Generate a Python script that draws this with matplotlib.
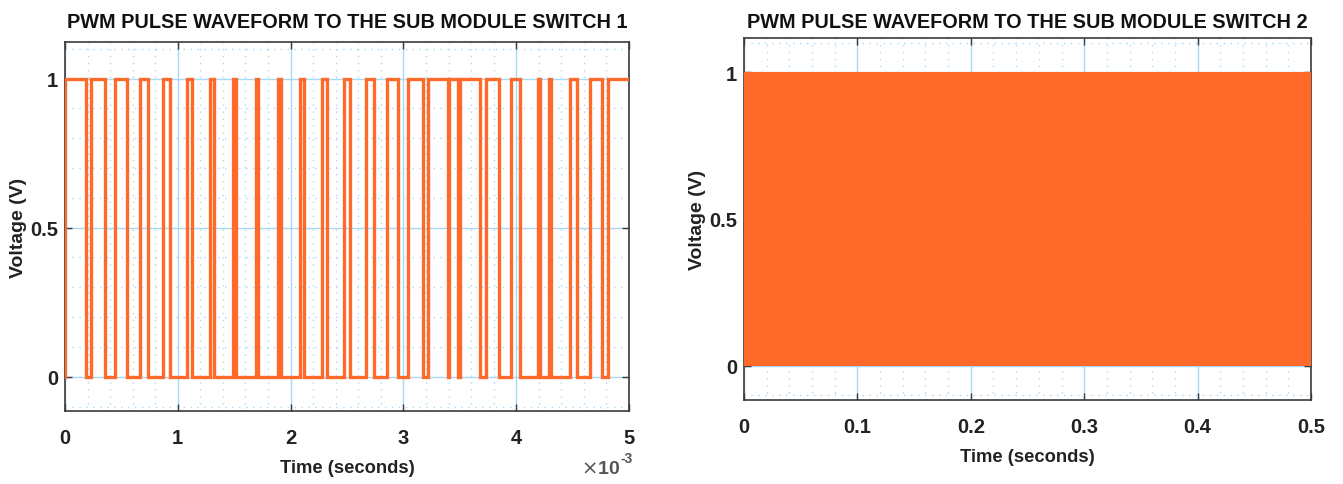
import numpy as np
import matplotlib
matplotlib.use("Agg")
import matplotlib.pyplot as plt
from matplotlib.ticker import MultipleLocator

plt.rcParams['font.family'] = ['Liberation Sans', 'DejaVu Sans']

# ---- data ----
# Switch 1: high intervals (start, end) in milliseconds
pulse_starts_ms = [0.000, 0.229, 0.446, 0.661, 0.867, 1.082, 1.285, 1.485, 1.691,
                   1.888, 2.082, 2.279, 2.470, 2.670, 2.853, 3.043, 3.220, 3.408,
                   3.500, 3.735, 3.956, 4.191, 4.288, 4.476, 4.653, 4.817]
pulse_ends_ms = [0.182, 0.352, 0.552, 0.740, 0.935, 1.123, 1.317, 1.514, 1.714,
                 1.914, 2.117, 2.323, 2.529, 2.735, 2.955, 3.176, 3.391, 3.482,
                 3.676, 3.846, 4.035, 4.212, 4.305, 4.535, 4.764, 5.000]
low_level = 0.0
high_level = 1.0

# Switch 2: high-frequency PWM seen as a solid band
band_time_s = [0.0, 0.5]
band_low = [0.0, 0.0]
band_high = [1.0, 1.0]

xticks1 = [0, 1, 2, 3, 4, 5]
xticks2 = [0, 0.1, 0.2, 0.3, 0.4, 0.5]
xtick_labels2 = ['0', '0.1', '0.2', '0.3', '0.4', '0.5']
yticks = [0, 0.5, 1]
ytick_labels = ['0', '0.5', '1']
title1 = 'PWM PULSE WAVEFORM TO THE SUB MODULE SWITCH 1'
title2 = 'PWM PULSE WAVEFORM TO THE SUB MODULE SWITCH 2'
xlabel = 'Time (seconds)'
ylabel = 'Voltage (V)'

# ---- styling ----
ORANGE = '#FF6A2B'
GRID = '#A6D8F7'
SPINE = '#3a3a3a'

W, H = 1343, 485
fig = plt.figure(figsize=(W / 100, H / 100), dpi=100)

def box(l, t, r, b):
    return [l / W, 1 - b / H, (r - l) / W, (b - t) / H]

ax1 = fig.add_axes(box(65, 43, 629, 412))
ax2 = fig.add_axes(box(744, 39, 1311, 401))

# build step trace for switch 1
xs, ys = [0.0], [low_level]
for s, e in zip(pulse_starts_ms, pulse_ends_ms):
    xs += [s, s, e, e]
    ys += [low_level, high_level, high_level, low_level]
if pulse_ends_ms[-1] >= 5.0:
    xs, ys = xs[:-1], ys[:-1]
ax1.plot(xs, ys, color=ORANGE, lw=2.4, solid_joinstyle='miter', zorder=3)
ax1.set_xlim(0, 5)
ax1.set_ylim(-0.115, 1.123)
ax1.set_xticks(xticks1)
ax1.set_xticklabels([str(v) for v in xticks1])
ax1.xaxis.set_minor_locator(MultipleLocator(0.2))

ax2.fill_between(band_time_s, band_low, band_high, color=ORANGE, lw=0, zorder=3)
ax2.set_xlim(0, 0.5)
ax2.set_ylim(-0.117, 1.117)
ax2.set_xticks(xticks2)
ax2.set_xticklabels(xtick_labels2)
ax2.xaxis.set_minor_locator(MultipleLocator(0.02))

for ax, title, tpad in ((ax1, title1, 11), (ax2, title2, 8)):
    ax.set_yticks(yticks)
    ax.set_yticklabels(ytick_labels)
    ax.yaxis.set_minor_locator(MultipleLocator(0.1))
    ax.grid(True, which='major', color=GRID, lw=1.0, ls='-', zorder=0)
    ax.grid(True, which='minor', color=GRID, lw=1.0, ls=(0, (1, 4)), zorder=0)
    ax.set_axisbelow(True)
    for sp in ax.spines.values():
        sp.set_color(SPINE)
        sp.set_linewidth(1.2)
    ax.tick_params(which='major', direction='in', length=5, width=1, color=SPINE,
                   top=True, right=True, labelsize=14.5)
    ax.tick_params(axis='x', pad=12)
    ax.tick_params(axis='y', pad=5)
    ax.tick_params(which='minor', length=0, top=True, right=True)
    for lab in ax.get_xticklabels() + ax.get_yticklabels():
        lab.set_fontweight('bold')
        lab.set_color('#222222')
    ax.set_title(title, fontsize=14.3, fontweight='bold', pad=tpad, color='#111111')
    ax.set_xlabel(xlabel, fontsize=13.2, fontweight='bold', color='#222222', labelpad=9)
    ax.set_ylabel(ylabel, fontsize=14, fontweight='bold', color='#222222', labelpad=2.5)

ax1.text(0.985, -0.155, r'$\times$10', transform=ax1.transAxes,
         ha='right', va='center', fontsize=14, color='#555555', fontweight='bold')
ax1.text(0.985, -0.128, '-3', transform=ax1.transAxes,
         ha='left', va='center', fontsize=10, color='#555555', fontweight='bold')

fig.savefig('out.png', dpi=100)
